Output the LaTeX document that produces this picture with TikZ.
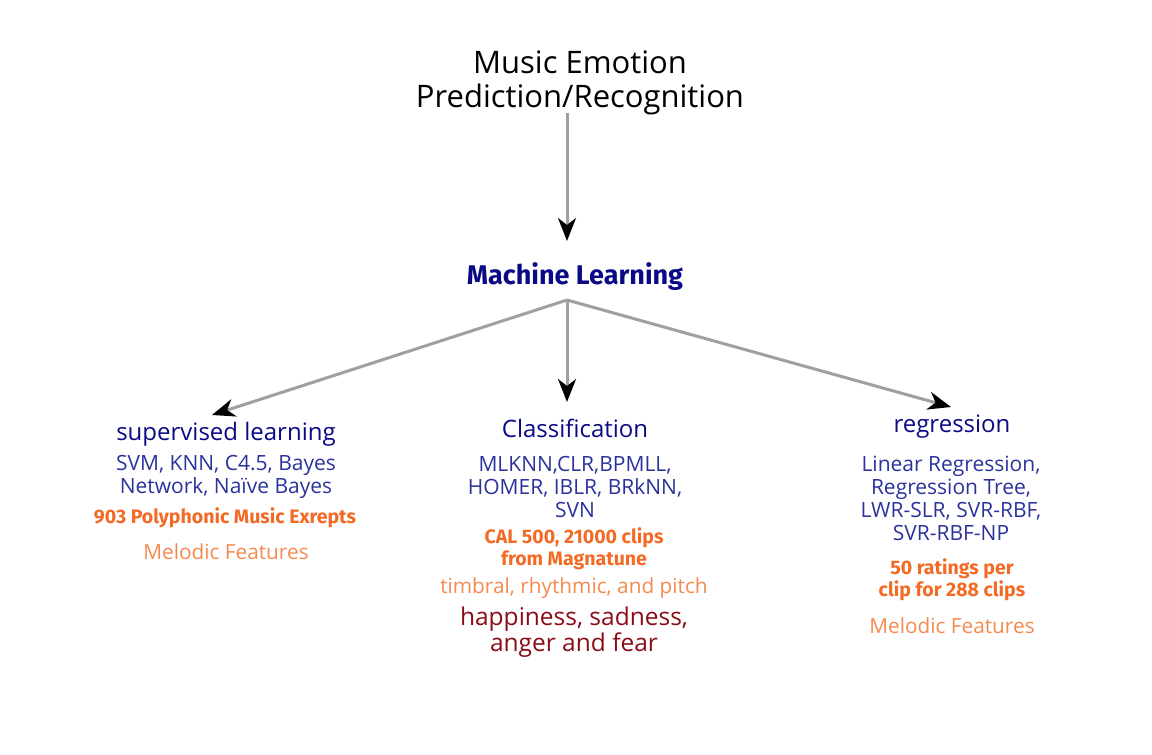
\documentclass[tikz,border=0pt]{standalone}
\usepackage{fontspec}
\setmainfont{Open Sans}
\newfontfamily\condfont{Fira Sans}
\usetikzlibrary{arrows.meta}
\definecolor{navy}{HTML}{0A0A86}
\definecolor{itemblue}{HTML}{2A339C}
\definecolor{orng}{HTML}{F26A24}
\definecolor{lorng}{HTML}{F48A50}
\definecolor{dred}{HTML}{8A0C16}
\definecolor{lgray}{HTML}{A0A0A0}
\tikzset{
  titletext/.style={font=\fontsize{31}{34}\selectfont, align=center, text=black, inner sep=0pt},
  mltext/.style={font=\condfont\bfseries\fontsize{27}{32}\selectfont, text=navy, inner sep=0pt},
  headtext/.style={font=\fontsize{24}{28}\selectfont, text=navy, inner sep=0pt},
  itemtext/.style={font=\fontsize{21}{23}\selectfont, text=itemblue, align=center, inner sep=0pt},
  datatext/.style={font=\condfont\bfseries\fontsize{19.5}{22.5}\selectfont, text=orng, align=center, inner sep=0pt},
  feattext/.style={font=\fontsize{20.8}{24}\selectfont, text=lorng, align=center, inner sep=0pt},
  emotext/.style={font=\fontsize{24.5}{25.5}\selectfont, text=dred, align=center, inner sep=0pt},
  link/.style={draw=lgray, line width=3pt, -{Stealth[color=black, fill=black, length=23pt, width=18pt, inset=7pt]}}
}
\begin{document}
\begin{tikzpicture}[x=1pt,y=-1pt]
\useasboundingbox (0,0) rectangle (1152,755);
\node[titletext] (title) at (580,83) {Music Emotion\\Prediction/Recognition};
\node[mltext] (ml) at (575,277) {Machine Learning};
% supervised
\node[headtext] (sup) at (226,434) {supervised learning};
\node[itemtext] (supitems) at (226,477) {SVM, KNN, C4.5, Bayes\\Network, Naïve Bayes};
\node[datatext] (supdata) at (225,518) {903 Polyphonic Music Exrepts};
\node[feattext] (supfeat) at (226,552) {Melodic Features};
% classification
\node[headtext] (cls) at (575,428) {Classification};
\node[itemtext] (clsitems) at (575,487) {MLKNN,CLR,BPMLL,\\HOMER, IBLR, BRkNN,\\SVN};
\node[datatext] (clsdata) at (574,549) {CAL 500, 21000 clips\\from Magnatune};
\node[feattext] (clsfeat) at (574,588) {timbral, rhythmic, and pitch};
\node[emotext] (clsemo) at (574,632) {happiness, sadness,\\anger and fear};
% regression
\node[headtext] (reg) at (952,427) {regression};
\node[itemtext] (regitems) at (951,498) {Linear Regression,\\Regression Tree,\\LWR-SLR, SVR-RBF,\\SVR-RBF-NP};
\node[datatext] (regdata) at (952,580) {50 ratings per\\clip for 288 clips};
\node[feattext] (regfeat) at (952,626) {Melodic Features};
% connectors
\coordinate (titlebot) at (567,113);
\coordinate (mltop) at (567,241);
\coordinate (mlbot) at (567,300);
\coordinate (suptop) at (212,415);
\coordinate (clstop) at (567,402);
\coordinate (regtop) at (951,407);
\draw[link] (titlebot) -- (mltop);
\draw[link] (mlbot) -- (suptop);
\draw[link] (mlbot) -- (clstop);
\draw[link] (mlbot) -- (regtop);
\end{tikzpicture}
\end{document}
